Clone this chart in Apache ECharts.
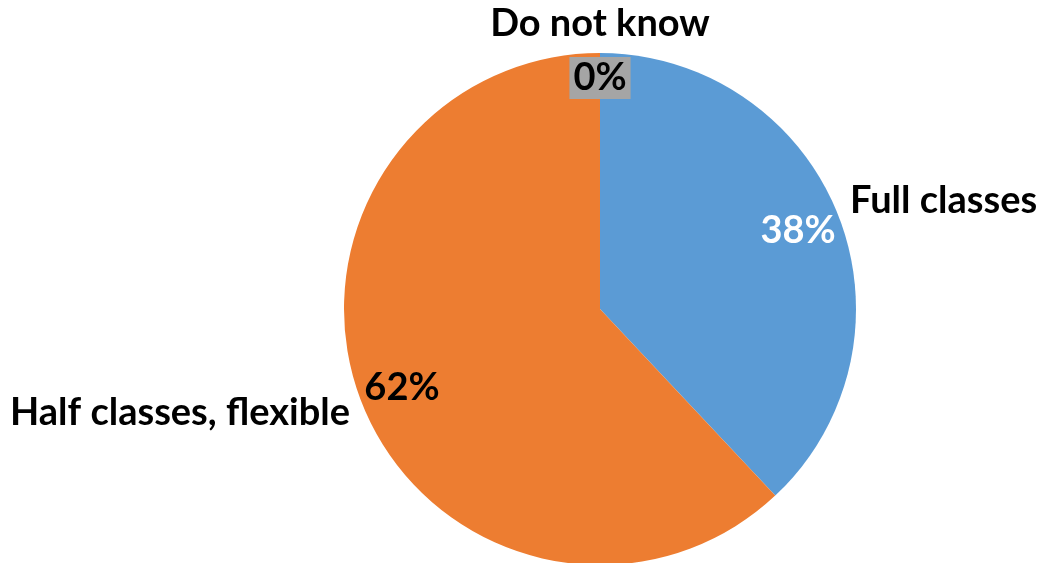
<!DOCTYPE html>
<html>
<head>
<meta charset="utf-8">
<script src="https://cdn.jsdelivr.net/npm/echarts@6/dist/echarts.min.js"></script>
<style>
  html, body { margin: 0; padding: 0; background: #fff; }
  #chart { width: 1041px; height: 563px; }
</style>
</head>
<body>
<div id="chart"></div>
<script>
// slice data, clockwise from 12 o'clock
const categories = ['Full classes', 'Half classes, flexible', 'Do not know'];
const shares = [38, 62, 0];

const sliceColors = ['#5B9BD5', '#ED7D31', '#A5A5A5'];
const pctColors = ['#ffffff', '#000000', '#000000'];
// where the category names sit (text anchor), Excel puts them by hand
const nameAnchors = [
  { x: 850, y: 201, align: 'left' },
  { x: 350, y: 413, align: 'right' },
  { x: 600, y: 24, align: 'center' }
];

const FONT = 'Lato';
const chart = echarts.init(document.getElementById('chart'));

const nameData = categories.map((c, i) => ({
  name: c, value: shares[i], itemStyle: { color: sliceColors[i] }
}));

const pctData = categories.map((c, i) => ({
  name: c,
  value: shares[i],
  label: i === 2
    ? { color: pctColors[i], backgroundColor: sliceColors[i], padding: [3, 4, 1, 4] }
    : { color: pctColors[i] }
}));

chart.setOption({
  animation: false,
  series: [
    {
      name: 'names',
      type: 'pie',
      center: [600, 309],
      radius: 256,
      startAngle: 90,
      clockwise: true,
      avoidLabelOverlap: false,
      silent: true,
      itemStyle: { borderWidth: 0 },
      label: {
        show: true,
        position: 'outside',
        formatter: '{b}',
        fontFamily: FONT,
        fontWeight: 'bold',
        fontSize: 38,
        color: '#000'
      },
      labelLine: { show: false },
      labelLayout: (p) => {
        const a = nameAnchors[p.dataIndex];
        return { x: a.x, y: a.y, align: a.align, verticalAlign: 'middle' };
      },
      data: nameData
    },
    {
      name: 'pct',
      type: 'pie',
      center: [600, 309],
      radius: [0, 420],
      startAngle: 90,
      clockwise: true,
      avoidLabelOverlap: false,
      silent: true,
      itemStyle: { color: 'rgba(0,0,0,0)', borderWidth: 0 },
      label: {
        show: true,
        position: 'inside',
        formatter: '{d}%',
        fontFamily: FONT,
        fontWeight: 'bold',
        fontSize: 38
      },
      labelLine: { show: false },
      // the empty slice's label sits closer to the rim
      labelLayout: (p) => (shares[p.dataIndex] === 0 ? { dy: -18 } : {}),
      data: pctData
    }
  ]
});
</script>
</body>
</html>
